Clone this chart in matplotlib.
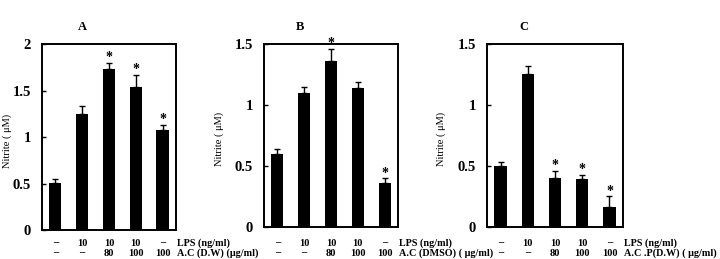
"""
Nitrite production, three panels (A, B, C) with LPS / A.C treatment rows
"""
import matplotlib
matplotlib.use('Agg')
import matplotlib.pyplot as plt
from matplotlib.transforms import blended_transform_factory

# Panel data
panels = ['A', 'B', 'C']
nitrite_a = [0.51, 1.25, 1.73, 1.54, 1.08]
err_a = [0.04, 0.08, 0.07, 0.13, 0.05]
nitrite_b = [0.60, 1.10, 1.36, 1.14, 0.36]
err_b = [0.04, 0.05, 0.10, 0.05, 0.04]
nitrite_c = [0.50, 1.25, 0.40, 0.39, 0.16]
err_c = [0.03, 0.07, 0.06, 0.04, 0.09]
stars_a = [False, False, True, True, True]
stars_b = [False, False, True, False, True]
stars_c = [False, False, True, True, True]

lps_row = ['–', '10', '10', '10', '–']
dose_row = ['–', '–', '80', '100', '100']
lps_label = 'LPS (ng/ml)'
dose_labels = ['A.C (D.W) (μg/ml)', 'A.C (DMSO) ( μg/ml)', 'A.C .P(D.W) ( μg/ml)']

y_max = [2, 1.5, 1.5]
y_ticks = [[0, 0.5, 1, 1.5, 2], [0, 0.5, 1, 1.5], [0, 0.5, 1, 1.5]]

SERIF = 'Liberation Serif'

fig = plt.figure(figsize=(7.2, 2.59), dpi=100)

# axes boxes in figure fractions
boxes = [
    [0.0583, 0.112, 0.186, 0.718],
    [0.3667, 0.1236, 0.186, 0.7066],
    [0.6764, 0.1236, 0.189, 0.7066],
]
title_x = [82 / 720, 300 / 720, 524 / 720]
ylabel_x = [-0.225, -0.3, -0.3]

all_vals = [nitrite_a, nitrite_b, nitrite_c]
all_err = [err_a, err_b, err_c]
all_stars = [stars_a, stars_b, stars_c]

for i in range(3):
    ax = fig.add_axes(boxes[i])
    vals = all_vals[i]
    errs = all_err[i]
    x = list(range(len(vals)))

    ax.bar(x, vals, width=0.45, color='black', zorder=2)
    ax.errorbar(x, vals, yerr=[[0] * len(errs), errs], fmt='none',
                ecolor='black', elinewidth=1, capsize=2.5, capthick=1, zorder=3)

    for xi, v, e, s in zip(x, vals, errs, all_stars[i]):
        if s:
            ax.annotate('*', (xi, v + e), xytext=(0, -1), textcoords='offset points',
                        ha='center', va='bottom', fontsize=10, fontweight='bold',
                        family=SERIF)

    ax.set_xlim(-0.5, 4.5)
    ax.set_ylim(0, y_max[i])
    ax.set_xticks([])
    ax.set_yticks(y_ticks[i])
    ax.set_yticklabels([f'{t:g}' for t in y_ticks[i]], fontsize=10.5,
                       fontweight='bold', family=SERIF)
    ax.tick_params(axis='y', direction='in', length=3, width=1, pad=8)
    for sp in ax.spines.values():
        sp.set_linewidth(1.4)

    ax.set_ylabel('Nitrite ( μM)', fontsize=7.5, family=SERIF)
    ax.yaxis.set_label_coords(ylabel_x[i], 0.48)

    fig.text(title_x[i], 1 - 27 / 259, panels[i], ha='center', va='center',
             fontsize=9, fontweight='bold', family=SERIF)

    # treatment rows under the bars
    trans = blended_transform_factory(ax.transData, fig.transFigure)
    for xi in x:
        ax.text(xi, 1 - 243 / 259, lps_row[xi], transform=trans, ha='center',
                va='center', fontsize=7.5, fontweight='bold', family=SERIF)
        ax.text(xi, 1 - 253 / 259, dose_row[xi], transform=trans, ha='center',
                va='center', fontsize=7.5, fontweight='bold', family=SERIF)
    ax.text(4.55, 1 - 243 / 259, lps_label, transform=trans, ha='left',
            va='center', fontsize=7.3, fontweight='bold', family=SERIF)
    ax.text(4.55, 1 - 253 / 259, dose_labels[i], transform=trans, ha='left',
            va='center', fontsize=7.3, fontweight='bold', family=SERIF)

plt.savefig('out.png', dpi=100)
